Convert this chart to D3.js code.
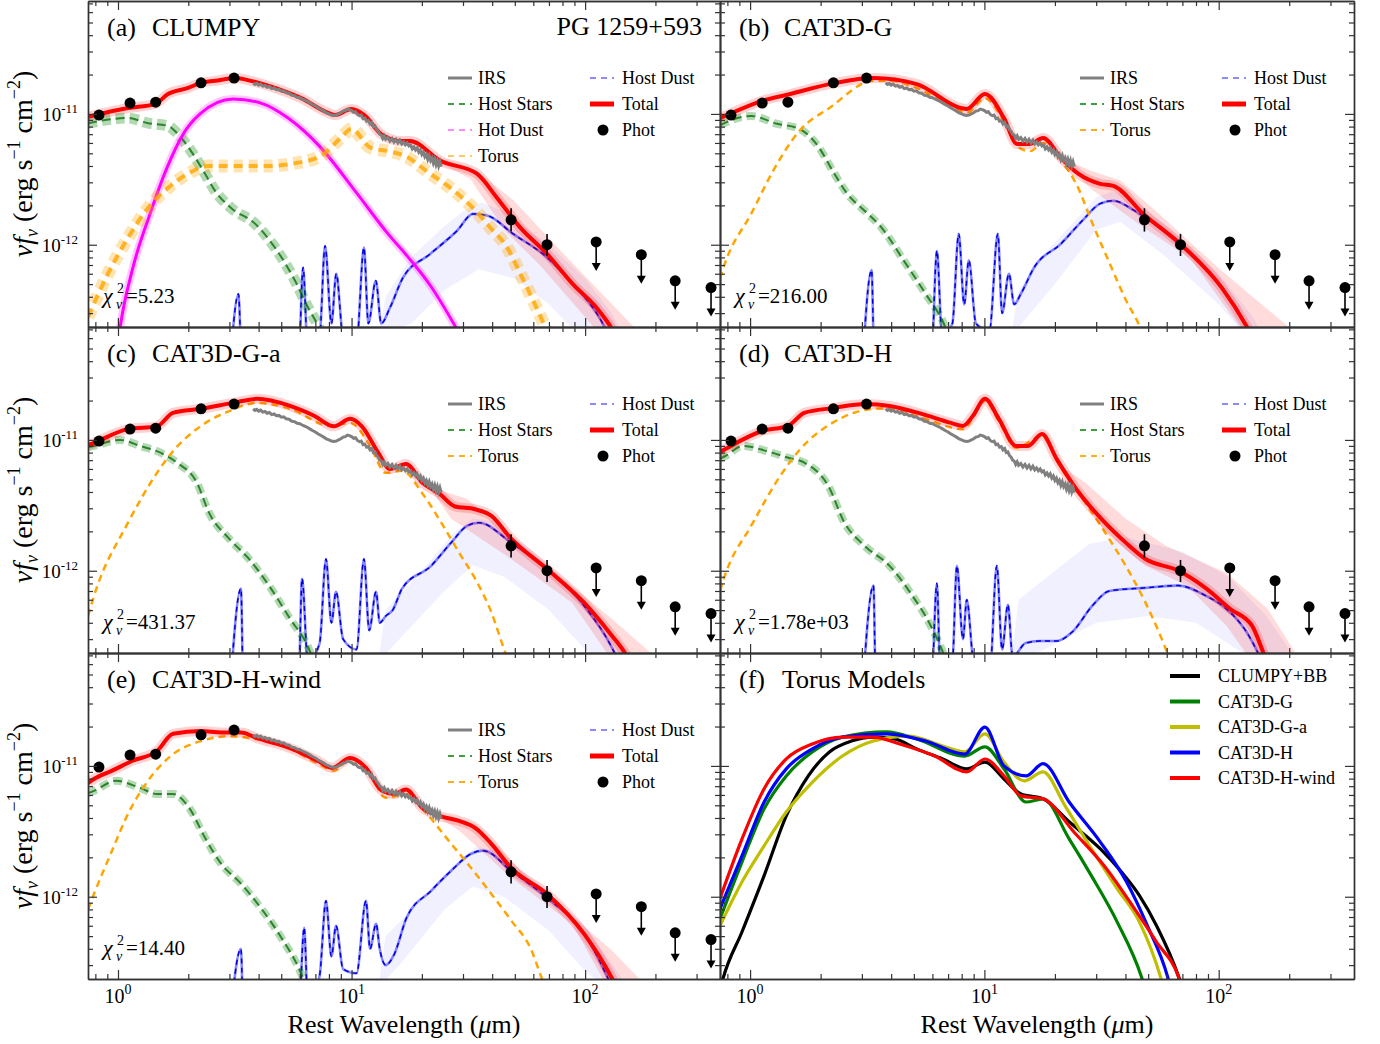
<!DOCTYPE html>
<html><head><meta charset="utf-8">
<script src="https://cdn.jsdelivr.net/npm/d3@7"></script>
<style>
body{margin:0;background:#fff;}
svg text{font-family:"Liberation Serif","DejaVu Serif",serif;fill:#000;}
</style></head><body>
<svg id="c" width="1380" height="1044"></svg>
<script>
// ---------------- DATA (wavelength in micron, flux in 1e-12 erg s^-1 cm^-2) ----------------
const xMajorTicks=[1,10,100];
const xMinorTicks=[0.8,0.9,2,3,4,5,6,7,8,9,20,30,40,50,60,70,80,90,200,300];
const yMajorTicks=[1e-12,1e-11];
const yMinorTicks=[3e-13,4e-13,5e-13,6e-13,7e-13,8e-13,9e-13,2e-12,3e-12,4e-12,5e-12,6e-12,7e-12,8e-12,9e-12,2e-11,3e-11,4e-11,5e-11,6e-11,7e-11];
const xTickLabels=[["10","0"],["10","1"],["10","2"]];
const yTickLabels=[["10","-12"],["10","-11"]];

const photWave=[0.829,1.126,1.45,2.268,3.14,48.2,68.7];
const photFlux=[9.8,12.1,12.3,17.3,18.8,1.55,1.0];
const photErrLow=[0,0,0,0,0,1.26,0.82];
const photErrHigh=[0,0,0,0,0,1.90,1.21];
const ulWave=[111.5,174,243,346];
const ulFlux=[1.05,0.84,0.53,0.47];

const irs=[[3.79,17.3],[3.86,16.8],[3.93,17.1],[4.0,16.6],[4.08,16.9],[4.17,16.3],[4.26,16.5],[4.35,16.0],[4.45,16.2],[4.55,15.6],[4.66,15.8],[4.77,15.3],[4.89,15.4],[5.0,14.9],[5.12,15.0],[5.25,14.5],[5.4,14.4],[5.55,13.9],[5.7,13.8],[5.85,13.4],[6.0,13.3],[6.2,12.9],[6.4,12.6],[6.6,12.2],[6.8,11.8],[7.0,11.5],[7.2,11.1],[7.4,10.8],[7.6,10.5],[7.8,10.2],[8.0,10.0],[8.2,9.8],[8.4,9.75],[8.6,9.8],[8.8,10.0],[9.0,10.2],[9.2,10.5],[9.4,10.6],[9.6,10.9],[9.8,10.8],[10.0,10.6],[10.2,10.3],[10.4,10.4],[10.6,9.9],[10.8,9.7],[11.0,9.8],[11.2,9.2],[11.4,9.3],[11.6,8.8],[11.8,8.9],[12.0,8.4],[12.2,8.6],[12.4,8.0],[12.6,8.1],[12.8,7.6],[13.0,7.4],[13.2,7.0],[13.4,6.9],[13.6,6.5],[13.8,6.8],[14.0,6.4],[14.3,6.6],[14.6,6.2],[14.9,6.5],[15.2,6.1],[15.5,6.4],[15.8,6.0],[16.1,6.3],[16.4,5.9],[16.7,6.1],[17.0,5.8],[17.3,6.0],[17.6,5.7],[17.9,5.8],[18.2,5.4],[18.5,5.6],[18.8,5.3],[19.1,5.5],[19.4,5.1],[19.7,5.3],[20.0,4.9],[20.3,5.1],[20.6,4.7],[20.9,4.9],[21.2,4.5],[21.5,4.8],[21.8,4.4],[22.1,4.6],[22.4,4.2],[22.7,4.5],[23.0,4.1],[23.3,4.4],[23.6,4.0],[23.9,4.3],[24.2,3.95]];

// Panel (a) CLUMPY
const totalA=[[0.744,9.5],[1.104,11.1],[1.44,11.9],[1.637,14.2],[1.995,15.8],[2.268,17.3],[2.604,17.9],[3.17,18.8],[3.71,17.9],[4.70,15.8],[6.08,13.2],[7.93,10.2],[8.5,9.8],[9.97,10.9],[11.41,9.7],[13.4,7.0],[16.3,6.2],[17.8,6.2],[24.0,4.38],[34.4,3.49],[41.9,2.29],[52.8,1.35],[68.7,0.85],[88.6,0.50],[112,0.33],[124,0.26],[150,0.15]];
const totalHiA=[[20,5.1],[24,4.6],[30,4.0],[35.5,3.49],[49.2,2.2],[81,0.85],[160,0.24],[250,0.1]];
const totalLoA=[[20,5.0],[24,4.2],[32.2,3.2],[45.4,1.28],[64.4,0.69],[110,0.23],[150,0.1]];
const starsA=[[0.744,8.5],[1.104,9.3],[1.344,8.5],[1.637,8.1],[1.807,7.0],[2.055,5.2],[2.359,3.49],[2.604,2.58],[3.05,1.91],[3.86,1.45],[4.70,0.95],[5.73,0.53],[6.52,0.33],[7.19,0.24],[8.0,0.15]];
const hotA=[[0.95,0.08],[1.02,0.23],[1.159,0.67],[1.371,1.72],[1.62,3.87],[1.90,7.0],[2.245,10.0],[3.11,13.0],[4.09,12.1],[5.35,9.3],[7.40,5.5],[10.35,2.58],[14.33,1.21],[17.5,0.80],[21.7,0.49],[27.7,0.24],[32,0.15]];
const torusA=[[0.744,0.28],[0.906,0.60],[1.104,1.13],[1.344,1.91],[1.637,2.72],[1.995,3.49],[2.43,4.0],[3.26,4.0],[4.39,4.0],[5.73,4.2],[7.40,4.78],[9.02,6.6],[9.97,7.68],[12.1,5.5],[14.33,5.2],[16.9,4.78],[21.7,3.49],[26.5,2.72],[33.1,1.91],[39.3,1.35],[46.4,0.95],[52.8,0.60],[60.1,0.37],[66.4,0.25],[75,0.15]];
const dustA=[[3.0,0.1],[3.28,0.42],[3.4,0.1],[5.9,0.1],[6.2,0.67],[6.5,0.15],[7.3,0.2],[7.7,0.98],[8.2,0.25],[8.6,0.6],[9.2,0.2],[10.5,0.18],[11.3,0.95],[11.8,0.25],[12.7,0.53],[13.4,0.25],[14.6,0.33],[16.6,0.56],[21.7,0.85],[28.3,1.28],[33.1,1.72],[38.1,1.67],[49.2,1.21],[68.7,0.80],[88.6,0.50],[112,0.30],[140,0.14]];
const dustHiA=[[13,0.2],[14,0.4],[18,0.8],[24,1.3],[30,1.8],[36,2.1],[45,1.8],[70,1.0],[100,0.55],[130,0.3],[170,0.12]];
const dustLoA=[[13,0.2],[18,0.25],[25,0.45],[35,0.65],[50,0.55],[70,0.35],[90,0.22],[170,0.12]];

// Panel (b) CAT3D-G
const totalB=[[0.744,9.3],[0.781,9.65],[1.126,12.6],[1.483,14.2],[2.29,17.2],[3.36,18.8],[5.14,16.9],[7.93,11.1],[8.41,10.9],[10.05,14.2],[12.12,9.3],[13.78,5.9],[15.66,5.9],[17.8,6.55],[21.26,4.6],[25.14,3.49],[31.2,2.92],[35.5,2.82],[47.7,1.72],[70.1,0.98],[103,0.47],[133,0.23],[160,0.12]];
const totalHiB=[[21,4.7],[28.3,3.7],[38.1,3.1],[56,1.7],[102,0.64],[202,0.23],[300,0.1]];
const totalLoB=[[21,4.6],[28.3,2.7],[46.4,1.4],[76,0.78],[124,0.23],[160,0.1]];
const starsB=[[0.744,8.2],[0.781,8.55],[1.01,9.65],[1.305,8.4],[1.621,7.7],[1.918,5.9],[2.29,3.49],[2.60,2.45],[3.08,1.82],[3.64,1.35],[4.52,0.76],[5.62,0.42],[6.64,0.26],[7.5,0.15]];
const torusB=[[0.744,0.55],[0.781,0.72],[1.01,1.72],[1.254,3.67],[1.621,7.4],[2.18,11.1],[3.36,17.9],[3.98,17.9],[5.14,15.8],[7.93,10.5],[8.41,10.2],[10.05,13.2],[12.12,8.8],[14.33,5.4],[15.66,5.2],[17.8,6.0],[21.26,4.38],[25.14,2.72],[28.58,1.53],[33.8,0.76],[40.4,0.37],[45.9,0.24],[52,0.13]];
const dustB=[[3.0,0.1],[3.3,0.64],[3.4,0.1],[5.9,0.1],[6.27,0.90],[6.6,0.2],[7.3,0.25],[7.77,1.21],[8.2,0.35],[8.58,0.76],[9.2,0.25],[10.5,0.22],[11.41,1.21],[11.9,0.3],[12.73,0.6],[13.4,0.35],[14.3,0.42],[16.3,0.67],[21.26,1.02],[26.2,1.53],[31.2,2.06],[35.5,2.17],[43.7,1.82],[67.4,1.02],[103,0.47],[128,0.26],[150,0.15]];
const dustHiB=[[13,0.2],[14,0.45],[18,0.85],[25,1.6],[30,2.3],[35,2.55],[42,2.3],[60,1.4],[100,0.6],[140,0.28],[180,0.12]];
const dustLoB=[[13,0.2],[20,0.5],[30,1.3],[38,1.5],[60,0.8],[100,0.35],[125,0.22],[180,0.12]];

// Panel (c) CAT3D-G-a
const totalC=[[0.744,9.1],[0.789,9.5],[1.104,12.1],[1.469,12.7],[1.72,16.1],[2.268,17.3],[3.11,19.2],[3.94,20.6],[5.45,18.2],[6.91,15.3],[8.41,12.7],[9.87,14.5],[11.07,12.7],[13.0,8.0],[14.6,6.0],[17.1,6.55],[20.1,4.7],[23.7,3.9],[27.7,3.1],[33.8,2.95],[39.7,2.63],[48.2,1.76],[68.7,1.03],[99.0,0.57],[130,0.32],[147,0.24],[170,0.15]];
const totalHiC=[[22,4.3],[31.2,3.55],[58.9,1.37],[130,0.43],[194,0.23],[280,0.1]];
const totalLoC=[[22,4.1],[26.7,2.5],[48.2,1.23],[88,0.57],[125,0.23],[160,0.1]];
const starsC=[[0.744,8.8],[0.789,9.0],[1.02,10.0],[1.242,9.0],[1.528,7.95],[1.789,6.7],[2.178,4.7],[2.455,2.77],[2.99,1.76],[3.64,1.23],[4.43,0.77],[5.45,0.43],[6.52,0.26],[7.3,0.15]];
const torusC=[[0.744,0.45],[0.789,0.64],[1.104,2.33],[1.469,5.6],[1.72,8.2],[2.268,12.8],[2.99,16.6],[3.94,19.2],[5.45,17.3],[8.10,12.8],[9.87,13.5],[12.0,9.0],[14.0,5.6],[16.45,5.8],[20.1,3.9],[24.7,2.2],[28.9,1.37],[33.8,0.87],[39.7,0.48],[45.4,0.24],[52,0.13]];
const dustC=[[3.0,0.1],[3.36,0.73],[3.45,0.1],[5.9,0.1],[6.14,0.87],[6.5,0.2],[7.3,0.28],[7.77,1.23],[8.2,0.4],[8.58,0.69],[9.2,0.3],[10.5,0.25],[11.30,1.23],[11.9,0.35],[12.73,0.69],[13.2,0.4],[14.0,0.45],[15,0.5],[16.45,0.73],[21.9,1.09],[26.7,1.64],[31.2,2.2],[35.1,2.33],[48.2,1.64],[68.7,1.03],[99,0.54],[130,0.26],[150,0.15]];
const dustHiC=[[13,0.2],[14,0.5],[20,1.0],[27,1.9],[33,2.5],[40,2.4],[60,1.4],[100,0.6],[140,0.28],[180,0.12]];
const dustLoC=[[13,0.2],[16,0.3],[25,0.7],[33,1.1],[45,0.9],[70,0.5],[100,0.25],[180,0.12]];

// Panel (d) CAT3D-H
const totalD=[[0.744,8.1],[0.781,8.5],[1.126,11.7],[1.454,12.8],[1.703,16.1],[2.245,17.5],[3.11,18.8],[3.94,18.2],[5.40,15.8],[7.19,13.5],[8.10,12.8],[8.94,15.3],[10.05,20.6],[11.53,14.5],[13.65,9.0],[15.35,9.0],[17.6,11.1],[20.3,7.2],[24.7,4.2],[31.5,2.5],[40.1,1.64],[48.7,1.23],[67.4,1.0],[88.6,0.73],[112,0.51],[138.7,0.38],[156,0.23],[180,0.12]];
const totalHiD=[[21,6.4],[27,4.7],[40.1,2.5],[59.5,1.55],[108,0.96],[162,0.51],[214,0.23],[300,0.1]];
const totalLoD=[[21,6.3],[32.8,1.95],[48.7,1.09],[73,0.77],[108,0.38],[131.5,0.23],[160,0.1]];
const starsD=[[0.744,7.2],[0.781,7.5],[0.933,9.0],[1.182,8.2],[1.454,7.3],[1.703,6.7],[2.157,4.45],[2.528,2.33],[3.08,1.55],[3.94,1.09],[4.80,0.69],[5.90,0.38],[6.52,0.26],[7.3,0.15]];
const torusD=[[0.744,0.7],[0.781,0.92],[1.01,2.2],[1.344,5.3],[1.637,8.5],[2.245,13.5],[3.36,17.3],[3.94,17.5],[5.40,14.8],[8.10,12.1],[10.05,19.8],[11.53,13.9],[13.65,8.7],[17.6,10.7],[21.0,6.3],[27.0,3.3],[32.8,1.95],[40.1,1.09],[48.7,0.57],[60.1,0.24],[68,0.13]];
const dustD=[[3.0,0.1],[3.36,0.77],[3.45,0.1],[5.9,0.1],[6.27,0.8],[6.5,0.15],[7.3,0.2],[7.63,1.09],[8.1,0.3],[8.41,0.6],[9.0,0.2],[10.5,0.15],[11.30,1.09],[11.9,0.25],[12.6,0.55],[13.2,0.22],[15,0.28],[17.2,0.29],[20.3,0.29],[23.7,0.34],[28.9,0.54],[34.1,0.70],[48.7,0.74],[67.4,0.77],[88.6,0.64],[108,0.51],[131.5,0.34],[148,0.23],[170,0.13]];
const dustHiD=[[13,0.2],[14,0.6],[20,1.0],[28,1.6],[40,1.8],[70,1.4],[110,0.9],[160,0.45],[200,0.25],[260,0.12]];
const dustLoD=[[13,0.2],[18,0.25],[30,0.4],[50,0.45],[80,0.4],[120,0.25],[260,0.12]];

// Panel (e) CAT3D-H-wind
const totalE=[[0.744,7.4],[0.789,7.95],[0.943,9.2],[1.148,10.9],[1.469,13.0],[1.72,17.6],[2.268,18.5],[2.763,18.0],[3.36,18.0],[3.94,16.3],[5.45,13.7],[7.19,10.9],[8.24,9.65],[9.87,11.5],[11.53,9.65],[13.5,6.45],[15.2,6.1],[17.1,6.6],[20.1,4.78],[23.7,4.15],[28.9,3.8],[33.8,3.36],[39.7,2.54],[48.2,1.66],[68.7,1.05],[99,0.52],[130,0.24],[150,0.14]];
const totalHiE=[[22,4.5],[33.8,3.6],[58.9,1.32],[130,0.39],[173,0.23],[250,0.1]];
const totalLoE=[[22,4.4],[28.9,3.19],[48.2,1.4],[88,0.62],[120,0.23],[150,0.1]];
const starsE=[[0.744,6.2],[0.789,6.45],[0.98,7.7],[1.242,6.8],[1.469,6.1],[1.72,6.1],[2.015,4.8],[2.359,2.82],[2.763,1.79],[3.36,1.26],[4.09,0.82],[4.99,0.49],[6.02,0.27],[6.8,0.15]];
const torusE=[[0.744,0.8],[0.789,1.05],[0.943,2.25],[1.104,4.3],[1.344,7.7],[1.72,12.3],[2.268,15.5],[2.99,16.9],[3.94,16.0],[5.45,13.5],[7.19,10.4],[8.41,9.2],[9.87,11.3],[12.0,8.7],[14.0,5.7],[17.1,6.1],[21.0,4.3],[26.7,2.54],[32.5,1.66],[39.7,1.05],[48.2,0.66],[58.9,0.39],[65.1,0.24],[72,0.15]];
const dustE=[[3.0,0.1],[3.36,0.4],[3.45,0.1],[5.9,0.1],[6.27,0.58],[6.5,0.15],[7.3,0.25],[7.77,0.93],[8.2,0.35],[8.58,0.6],[9.2,0.28],[10.5,0.26],[11.53,0.93],[12.0,0.4],[12.73,0.62],[13.2,0.4],[14.0,0.3],[15.2,0.36],[17.2,0.69],[21.9,1.11],[26.7,1.58],[32.5,2.13],[36.6,2.25],[48.2,1.58],[68.7,0.98],[99,0.52],[125,0.24],[140,0.15]];
const dustHiE=[[13,0.2],[14,0.5],[20,0.95],[27,1.7],[34,2.4],[40,2.3],[60,1.35],[100,0.6],[135,0.28],[180,0.12]];
const dustLoE=[[13,0.2],[16,0.3],[25,0.8],[33,1.2],[45,1.0],[70,0.55],[100,0.27],[180,0.12]];

// Panel (f) torus models
const modelNames=["CLUMPY+BB","CAT3D-G","CAT3D-G-a","CAT3D-H","CAT3D-H-wind"];
const modelColors=["#000000","#008000","#bfbf00","#0000ff","#ff0000"];
const fClumpy=[[0.70,0.12],[0.766,0.236],[0.924,0.54],[1.148,1.45],[1.427,4.15],[1.772,8.39],[2.18,12.8],[2.707,15.5],[3.36,16.6],[4.14,16.1],[5.14,13.5],[6.64,11.3],[8.41,9.5],[10.05,10.7],[12.12,7.95],[14.33,6.1],[17.8,5.6],[23.0,3.74],[31.2,2.33],[38.4,1.55],[45.9,1.02],[54.3,0.60],[67.4,0.245],[75,0.13]];
const fCat3dG=[[0.744,0.68],[0.924,1.85],[1.148,4.7],[1.427,8.39],[1.843,12.8],[2.478,16.6],[3.82,18.2],[5.14,16.1],[8.24,11.9],[10.05,14.0],[12.12,9.5],[15.05,5.3],[17.8,5.6],[23.0,2.77],[28.6,1.45],[36.9,0.64],[46.8,0.245],[52,0.13]];
const fCat3dGa=[[0.744,0.60],[0.924,1.3],[1.148,2.45],[1.427,4.45],[1.843,7.5],[2.478,11.9],[3.36,15.5],[4.75,16.9],[6.64,14.2],[8.24,12.8],[10.05,17.6],[12.12,10.7],[14.8,7.7],[17.8,9.0],[22.1,4.95],[28.6,2.33],[36.9,1.15],[45.9,0.64],[56.4,0.245],[62,0.13]];
const fCat3dH=[[0.744,0.81],[0.924,2.06],[1.148,5.3],[1.427,9.5],[1.843,13.5],[2.478,16.6],[3.82,17.6],[5.62,15.5],[8.24,12.3],[10.05,19.8],[12.12,10.0],[15.05,8.39],[17.8,10.4],[23.0,5.3],[31.2,2.63],[40.4,1.3],[49.6,0.60],[60.5,0.245],[66,0.13]];
const fCat3dHw=[[0.744,0.97],[0.924,2.77],[1.148,6.7],[1.427,11.3],[1.843,14.7],[2.478,16.6],[3.36,16.6],[4.35,14.7],[6.14,11.9],[8.41,9.0],[10.05,11.3],[12.12,8.39],[14.33,5.9],[17.8,5.6],[24.2,3.1],[32.5,1.72],[43.7,0.81],[54.3,0.45],[67.4,0.245],[75,0.13]];
const fModels=[fClumpy,fCat3dG,fCat3dGa,fCat3dH,fCat3dHw];

// ---------------- LAYOUT ----------------
const U=1e-12;
const xDomain=[0.744,378], yDomain=[2.35e-13,7.3e-11];
const colX=[[88,720],[720,1354]];
const rowY=[[1,327],[327,653],[653,979]];
const svg=d3.select('#c');
const defs=svg.append('defs');
const AX='#333';

const panels=[
 {id:'a',col:0,row:0,tag:'(a)',name:'CLUMPY',chi:'5.23',total:totalA,tHi:totalHiA,tLo:totalLoA,stars:starsA,hot:hotA,torus:torusA,dust:dustA,dHi:dustHiA,dLo:dustLoA},
 {id:'b',col:1,row:0,tag:'(b)',name:'CAT3D-G',chi:'216.00',total:totalB,tHi:totalHiB,tLo:totalLoB,stars:starsB,torus:torusB,dust:dustB,dHi:dustHiB,dLo:dustLoB},
 {id:'c',col:0,row:1,tag:'(c)',name:'CAT3D-G-a',chi:'431.37',total:totalC,tHi:totalHiC,tLo:totalLoC,stars:starsC,torus:torusC,dust:dustC,dHi:dustHiC,dLo:dustLoC},
 {id:'d',col:1,row:1,tag:'(d)',name:'CAT3D-H',chi:'1.78e+03',total:totalD,tHi:totalHiD,tLo:totalLoD,stars:starsD,torus:torusD,dust:dustD,dHi:dustHiD,dLo:dustLoD},
 {id:'e',col:0,row:2,tag:'(e)',name:'CAT3D-H-wind',chi:'14.40',total:totalE,tHi:totalHiE,tLo:totalLoE,stars:starsE,torus:torusE,dust:dustE,dHi:dustHiE,dLo:dustLoE},
];

function scales(col,row){
  const [x0,x1]=colX[col],[y0,y1]=rowY[row];
  return {x:d3.scaleLog().domain(xDomain).range([x0,x1]), y:d3.scaleLog().domain(yDomain).range([y1,y0]), x0,x1,y0,y1};
}

function frame(s,col,row){
  const g=svg.append('g');
  const mk=(axis,tr,vals,len)=>{
    const a=g.append('g').attr('transform',tr).call(axis.tickValues(vals).tickSizeInner(-len).tickSizeOuter(0).tickFormat(''));
    a.selectAll('line').attr('stroke',AX).attr('stroke-width',1.2);
    a.select('.domain').attr('stroke',AX).attr('stroke-width',1.4);
  };
  mk(d3.axisBottom(s.x),`translate(0,${s.y1})`,xMajorTicks,9);
  mk(d3.axisBottom(s.x),`translate(0,${s.y1})`,xMinorTicks,5);
  mk(d3.axisTop(s.x),`translate(0,${s.y0})`,xMajorTicks,9);
  mk(d3.axisTop(s.x),`translate(0,${s.y0})`,xMinorTicks,5);
  mk(d3.axisLeft(s.y),`translate(${s.x0},0)`,yMajorTicks,9);
  mk(d3.axisLeft(s.y),`translate(${s.x0},0)`,yMinorTicks,5);
  mk(d3.axisRight(s.y),`translate(${s.x1},0)`,yMajorTicks,9);
  mk(d3.axisRight(s.y),`translate(${s.x1},0)`,yMinorTicks,5);
  if(col===0){
    yMajorTicks.forEach((v,i)=>{
      const t=g.append('text').attr('x',78).attr('y',s.y(v)+7).attr('text-anchor','end').attr('font-size',19);
      t.append('tspan').text(yTickLabels[i][0]);
      t.append('tspan').attr('dy',-8).attr('font-size',13).text(yTickLabels[i][1]);
    });
    const cy=(s.y0+s.y1)/2;
    const t=g.append('text').attr('transform',`translate(32,${cy}) rotate(-90)`).attr('text-anchor','middle').attr('font-size',28);
    t.append('tspan').attr('font-style','italic').text('νf');
    t.append('tspan').attr('font-style','italic').attr('font-size',18).attr('dy',6).text('ν');
    t.append('tspan').attr('dy',-6).text(' (erg s');
    t.append('tspan').attr('font-size',18).attr('dy',-12).text('−1');
    t.append('tspan').attr('dy',12).text(' cm');
    t.append('tspan').attr('font-size',18).attr('dy',-12).text('−2');
    t.append('tspan').attr('dy',12).text(')');
  }
  if(row===2){
    xMajorTicks.forEach((v,i)=>{
      const t=g.append('text').attr('x',s.x(v)).attr('y',1003).attr('text-anchor','middle').attr('font-size',20);
      t.append('tspan').text(xTickLabels[i][0]);
      t.append('tspan').attr('dy',-9).attr('font-size',14).text(xTickLabels[i][1]);
    });
    const t=g.append('text').attr('x',(s.x0+s.x1)/2).attr('y',1033).attr('text-anchor','middle').attr('font-size',26);
    t.append('tspan').text('Rest Wavelength (');
    t.append('tspan').attr('font-style','italic').text('μ');
    t.append('tspan').text('m)');
  }
}

function title(s,tag,name){
  svg.append('text').attr('x',s.x0+19).attr('y',s.y0+35).attr('font-size',26).text(tag);
  svg.append('text').attr('x',s.x0+(name==='Torus Models'?62:64)).attr('y',s.y0+35).attr('font-size',26).text(name);
}

function legendLine(x1,x2,y,color,w,dash,op){
  svg.append('line').attr('x1',x1).attr('x2',x2).attr('y1',y).attr('y2',y).attr('stroke',color)
    .attr('stroke-width',w).attr('stroke-dasharray',dash||null).attr('opacity',op||1);
}
function legendText(x,y,txt,fs){svg.append('text').attr('x',x).attr('y',y+6).attr('font-size',fs||18).text(txt);}

function drawSED(p){
  const s=scales(p.col,p.row);
  const x=s.x,y=s.y;
  defs.append('clipPath').attr('id','clip'+p.id).append('rect').attr('x',s.x0).attr('y',s.y0).attr('width',s.x1-s.x0).attr('height',s.y1-s.y0);
  const L=d3.line().x(d=>x(d[0])).y(d=>y(d[1]*U)).curve(d3.curveMonotoneX);
  const Llin=d3.line().x(d=>x(d[0])).y(d=>y(d[1]*U));
  const band=(hi,lo)=>L([...hi,...lo.slice().reverse()].map((d,i,a)=>d))+'';
  const bandPath=(hi,lo)=>{
    const top=d3.line().x(d=>x(d[0])).y(d=>y(d[1]*U)).curve(d3.curveMonotoneX)(hi);
    const bot=d3.line().x(d=>x(d[0])).y(d=>y(d[1]*U)).curve(d3.curveMonotoneX)(lo.slice().reverse().map(d=>d));
    return top+'L'+bot.slice(1)+'Z';
  };
  const g=svg.append('g').attr('clip-path',`url(#clip${p.id})`);
  const path=(d,o)=>{const e=g.append('path').attr('d',d).attr('fill','none');for(const k in o)e.attr(k,o[k]);return e;};
  // host dust
  g.append('path').attr('d',Llin([...p.dHi,...p.dLo.slice().reverse()])+'Z').attr('fill','#3b3bff').attr('opacity',0.08);
  path(L(p.dust),{stroke:'#2222ff','stroke-width':2.6,opacity:0.55});
  path(L(p.dust),{stroke:'#0000dd','stroke-width':1.5,'stroke-dasharray':'5,4'});
  // host stars
  path(L(p.stars),{stroke:'#008000','stroke-width':p.id==='a'?11:8,opacity:0.3,'stroke-dasharray':'9,5'});
  path(L(p.stars),{stroke:'#006400','stroke-width':2,opacity:0.75,'stroke-dasharray':'9,5'});
  // hot dust
  if(p.hot){
    path(L(p.hot),{stroke:'#ff00ff','stroke-width':8,opacity:0.22});
    path(L(p.hot),{stroke:'#ff00ff','stroke-width':3});
  }
  // torus
  if(p.id==='a'){
    path(L(p.torus),{stroke:'#ffa500','stroke-width':13,opacity:0.3,'stroke-dasharray':'9,6'});
    path(L(p.torus),{stroke:'#ffa500','stroke-width':4,opacity:0.8,'stroke-dasharray':'9,6'});
  } else {
    path(L(p.torus),{stroke:'#ffa500','stroke-width':2.5,'stroke-dasharray':'7,5'});
  }
  // total
  g.append('path').attr('d',Llin([...p.tHi,...p.tLo.slice().reverse()])+'Z').attr('fill','#ff0000').attr('opacity',0.14);
  path(L(p.total),{stroke:'#ff0000','stroke-width':10,opacity:0.18});
  path(L(p.total),{stroke:'#ff0000','stroke-width':4});
  // IRS
  path(Llin(irs),{stroke:'#808080','stroke-width':3});
  // photometry
  const pg=svg.append('g');
  photWave.forEach((w,i)=>{
    if(photErrLow[i]>0){
      pg.append('line').attr('x1',x(w)).attr('x2',x(w)).attr('y1',y(photErrHigh[i]*U)).attr('y2',y(photErrLow[i]*U)).attr('stroke','#000').attr('stroke-width',1.6);
    }
    pg.append('circle').attr('cx',x(w)).attr('cy',y(photFlux[i]*U)).attr('r',5.5).attr('fill','#000');
  });
  ulWave.forEach((w,i)=>{
    const cx=x(w),cy=y(ulFlux[i]*U);
    pg.append('line').attr('x1',cx).attr('x2',cx).attr('y1',cy).attr('y2',cy+22).attr('stroke','#000').attr('stroke-width',1.6);
    pg.append('path').attr('d',`M${cx-4.5},${cy+21}L${cx+4.5},${cy+21}L${cx},${cy+29}Z`).attr('fill','#000');
    pg.append('circle').attr('cx',cx).attr('cy',cy).attr('r',5.5).attr('fill','#000');
  });
  frame(s,p.col,p.row);
  title(s,p.tag,p.name);
  // chi square
  const cx0=s.x0+15, cyb=s.y0+302;
  svg.append('text').attr('x',cx0).attr('y',cyb).attr('font-size',22).attr('font-style','italic').text('χ');
  svg.append('text').attr('x',cx0+14).attr('y',cyb-10).attr('font-size',14).text('2');
  svg.append('text').attr('x',cx0+13).attr('y',cyb+6).attr('font-size',14).attr('font-style','italic').text('ν');
  svg.append('text').attr('x',cx0+23).attr('y',cyb).attr('font-size',21).text('='+p.chi);
  // legend
  const lx=s.x0+360, lx2=s.x0+502, ly=s.y0+77;
  const col1=[['IRS','#808080',3,null,1],['Host Stars','#008000',1.6,'6,5',1]];
  if(p.hot) col1.push(['Hot Dust','#ff00ff',1.6,'6,5',0.6]);
  col1.push(['Torus','#ffa500',1.8,'6,5',p.id==='a'?0.6:0.9]);
  col1.forEach((it,i)=>{legendLine(lx,lx+24,ly+i*26,it[1],it[2],it[3],it[4]);legendText(lx+30,ly+i*26,it[0]);});
  legendLine(lx2,lx2+24,ly,'#3333ff',1.6,'6,5',0.75);legendText(lx2+32,ly,'Host Dust');
  legendLine(lx2,lx2+24,ly+26,'#ff0000',5);legendText(lx2+32,ly+26,'Total');
  svg.append('circle').attr('cx',lx2+13).attr('cy',ly+52).attr('r',5.5).attr('fill','#000');legendText(lx2+32,ly+52,'Phot');
  if(p.id==='a'){
    svg.append('text').attr('x',702).attr('y',35).attr('text-anchor','end').attr('font-size',26).text('PG 1259+593');
  }
}

panels.forEach(drawSED);

// Panel f
(function(){
  const s=scales(1,2);
  defs.append('clipPath').attr('id','clipf').append('rect').attr('x',s.x0).attr('y',s.y0).attr('width',s.x1-s.x0).attr('height',s.y1-s.y0);
  const L=d3.line().x(d=>s.x(d[0])).y(d=>s.y(d[1]*U)).curve(d3.curveMonotoneX);
  const g=svg.append('g').attr('clip-path','url(#clipf)');
  fModels.forEach((m,i)=>{
    g.append('path').attr('d',L(m)).attr('fill','none').attr('stroke',modelColors[i]).attr('stroke-width',3.2);
  });
  frame(s,1,2);
  title(s,'(f)','Torus Models');
  modelNames.forEach((n,i)=>{
    const yy=676+i*25.5;
    legendLine(1170,1200,yy,modelColors[i],4);
    legendText(1218,yy,n);
  });
})();
</script>
</body></html>
